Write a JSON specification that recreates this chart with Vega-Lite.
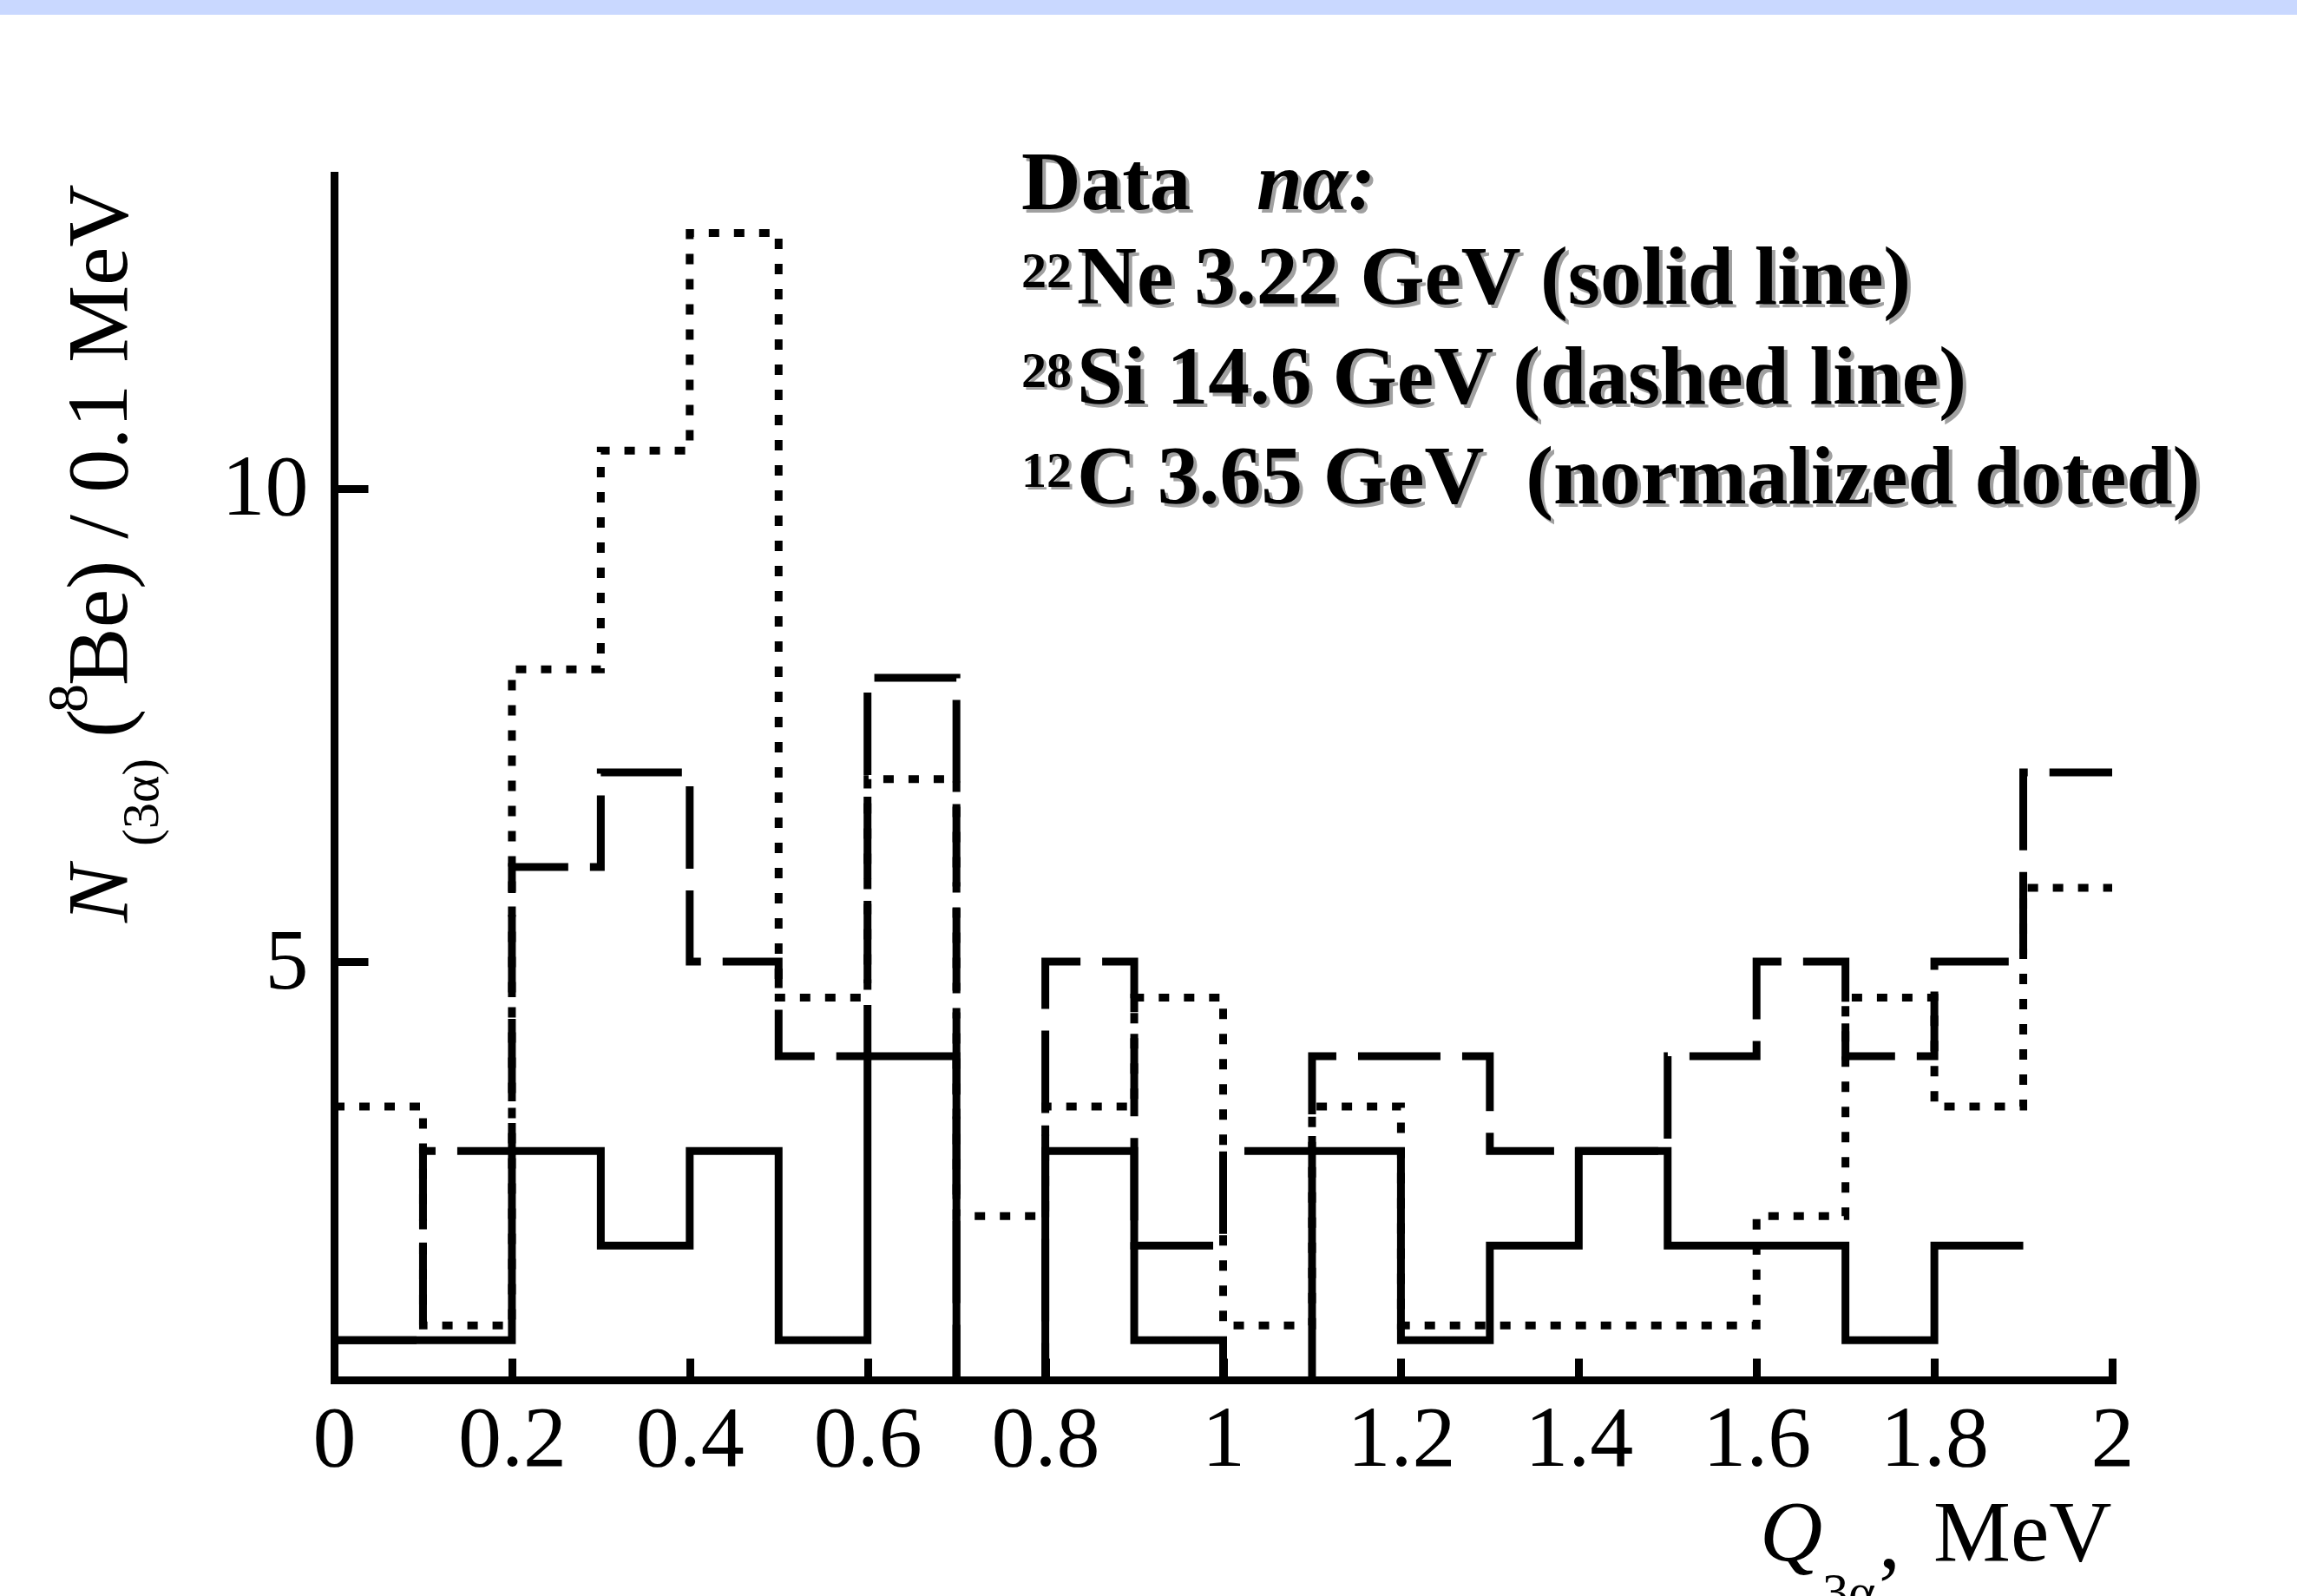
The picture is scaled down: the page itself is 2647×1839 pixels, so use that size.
{
  "$schema": "https://vega.github.io/schema/vega-lite/v6.json",
  "width": 2049,
  "height": 1388,
  "autosize": {"type": "none"},
  "padding": {"left": 385, "top": 202, "right": 213, "bottom": 249},
  "background": "white",
  "config": {"view": {"stroke": null}, "font": "Liberation Serif"},
  "layer": [
    {
      "data": {"values": [{}]},
      "mark": {"type": "rect", "color": "#c9d8ff", "clip": false},
      "encoding": {
        "x": {"datum": -0.4, "type": "quantitative"},
        "x2": {"datum": 2.25},
        "y": {"datum": 15.3, "type": "quantitative"},
        "y2": {"datum": 15.007}
      }
    },
    {
      "data": {
        "values": [
          {"series": "22Ne", "q": 0.0, "n": 1},
          {"series": "22Ne", "q": 0.1, "n": 1},
          {"series": "22Ne", "q": 0.2, "n": 3},
          {"series": "22Ne", "q": 0.3, "n": 2},
          {"series": "22Ne", "q": 0.4, "n": 3},
          {"series": "22Ne", "q": 0.5, "n": 1},
          {"series": "22Ne", "q": 0.6, "n": 4},
          {"series": "22Ne", "q": 0.7, "n": 0},
          {"series": "22Ne", "q": 0.8, "n": 3},
          {"series": "22Ne", "q": 0.9, "n": 1},
          {"series": "22Ne", "q": 1.0, "n": 0},
          {"series": "22Ne", "q": 1.1, "n": 3},
          {"series": "22Ne", "q": 1.2, "n": 1},
          {"series": "22Ne", "q": 1.3, "n": 2},
          {"series": "22Ne", "q": 1.4, "n": 3},
          {"series": "22Ne", "q": 1.5, "n": 2},
          {"series": "22Ne", "q": 1.6, "n": 2},
          {"series": "22Ne", "q": 1.7, "n": 1},
          {"series": "22Ne", "q": 1.8, "n": 2},
          {"series": "22Ne", "q": 1.9, "n": 2},
          {"series": "28Si", "q": 0.0, "n": 1},
          {"series": "28Si", "q": 0.1, "n": 3},
          {"series": "28Si", "q": 0.2, "n": 6},
          {"series": "28Si", "q": 0.3, "n": 7},
          {"series": "28Si", "q": 0.4, "n": 5},
          {"series": "28Si", "q": 0.5, "n": 4},
          {"series": "28Si", "q": 0.6, "n": 8},
          {"series": "28Si", "q": 0.7, "n": 0},
          {"series": "28Si", "q": 0.8, "n": 5},
          {"series": "28Si", "q": 0.9, "n": 2},
          {"series": "28Si", "q": 1.0, "n": 3},
          {"series": "28Si", "q": 1.1, "n": 4},
          {"series": "28Si", "q": 1.2, "n": 4},
          {"series": "28Si", "q": 1.3, "n": 3},
          {"series": "28Si", "q": 1.4, "n": 3},
          {"series": "28Si", "q": 1.5, "n": 4},
          {"series": "28Si", "q": 1.6, "n": 5},
          {"series": "28Si", "q": 1.7, "n": 4},
          {"series": "28Si", "q": 1.8, "n": 5},
          {"series": "28Si", "q": 1.9, "n": 7},
          {"series": "28Si", "q": 2.0, "n": 7},
          {"series": "12C", "q": 0.0, "n": 3.47},
          {"series": "12C", "q": 0.1, "n": 1.155},
          {"series": "12C", "q": 0.2, "n": 8.09},
          {"series": "12C", "q": 0.3, "n": 10.4},
          {"series": "12C", "q": 0.4, "n": 12.7},
          {"series": "12C", "q": 0.5, "n": 4.62},
          {"series": "12C", "q": 0.6, "n": 6.93},
          {"series": "12C", "q": 0.7, "n": 2.31},
          {"series": "12C", "q": 0.8, "n": 3.47},
          {"series": "12C", "q": 0.9, "n": 4.62},
          {"series": "12C", "q": 1.0, "n": 1.155},
          {"series": "12C", "q": 1.1, "n": 3.47},
          {"series": "12C", "q": 1.2, "n": 1.155},
          {"series": "12C", "q": 1.3, "n": 1.155},
          {"series": "12C", "q": 1.4, "n": 1.155},
          {"series": "12C", "q": 1.5, "n": 1.155},
          {"series": "12C", "q": 1.6, "n": 2.31},
          {"series": "12C", "q": 1.7, "n": 4.62},
          {"series": "12C", "q": 1.8, "n": 3.47},
          {"series": "12C", "q": 1.9, "n": 5.78},
          {"series": "12C", "q": 2.0, "n": 5.78}
        ]
      },
      "mark": {"type": "line", "interpolate": "step-after", "strokeWidth": 9, "color": "black", "clip": true, "strokeCap": "butt", "strokeJoin": "miter"},
      "encoding": {
        "x": {
          "field": "q", "type": "quantitative",
          "scale": {"domain": [0, 2], "nice": false, "zero": false},
          "axis": {
            "values": [0, 0.2, 0.4, 0.6, 0.8, 1, 1.2, 1.4, 1.6, 1.8, 2],
            "format": "~g", "title": null, "grid": false,
            "domainColor": "black", "domainWidth": 9, "domainCap": "square",
            "tickColor": "black", "tickWidth": 9, "tickSize": -25,
            "labelPadding": 44, "labelFont": "Liberation Serif", "labelFontSize": 100,
            "labelColor": "black", "labelOverlap": false, "labelFlush": false, "labelBound": false
          }
        },
        "y": {
          "field": "n", "type": "quantitative",
          "scale": {"domain": [0.58, 13.31], "nice": false, "zero": false},
          "axis": {
            "values": [5, 10], "format": "~g", "title": null, "grid": false,
            "domainColor": "black", "domainWidth": 9, "domainCap": "square",
            "tickColor": "black", "tickWidth": 9, "tickSize": -39,
            "labelPadding": 69, "labelFont": "Liberation Serif", "labelFontSize": 100,
            "labelColor": "black", "labelOverlap": false, "labelFlush": false, "labelBound": false
          }
        },
        "strokeDash": {
          "field": "series", "type": "nominal",
          "scale": {"domain": ["22Ne", "28Si", "12C"], "range": [[1, 0], [95, 25], [12, 17]]},
          "legend": null
        },
        "order": {"field": "q", "type": "quantitative"}
      }
    },
    {
      "data": {"values": [{}]},
      "mark": {"type": "text", "text": "Data", "font": "Liberation Serif", "fontWeight": "bold", "fontSize": 95, "align": "left", "baseline": "alphabetic", "color": "#a0a0a0", "dx": 4, "dy": 4},
      "encoding": {"x": {"datum": 0.7731, "type": "quantitative"}, "y": {"datum": 12.952, "type": "quantitative"}}
    },
    {
      "data": {"values": [{}]},
      "mark": {"type": "text", "text": "Data", "font": "Liberation Serif", "fontWeight": "bold", "fontSize": 95, "align": "left", "baseline": "alphabetic", "color": "black"},
      "encoding": {"x": {"datum": 0.7731, "type": "quantitative"}, "y": {"datum": 12.952, "type": "quantitative"}}
    },
    {
      "data": {"values": [{}]},
      "mark": {"type": "text", "text": "nα:", "font": "Liberation Serif", "fontWeight": "bold", "fontStyle": "italic", "fontSize": 95, "align": "left", "baseline": "alphabetic", "color": "#a0a0a0", "dx": 4, "dy": 4},
      "encoding": {"x": {"datum": 1.0376, "type": "quantitative"}, "y": {"datum": 12.952, "type": "quantitative"}}
    },
    {
      "data": {"values": [{}]},
      "mark": {"type": "text", "text": "nα:", "font": "Liberation Serif", "fontWeight": "bold", "fontStyle": "italic", "fontSize": 95, "align": "left", "baseline": "alphabetic", "color": "black"},
      "encoding": {"x": {"datum": 1.0376, "type": "quantitative"}, "y": {"datum": 12.952, "type": "quantitative"}}
    },
    {
      "data": {"values": [{}]},
      "mark": {"type": "text", "text": ["22", "28", "12"], "lineHeight": 115, "font": "Liberation Serif", "fontWeight": "bold", "fontSize": 58, "align": "left", "baseline": "alphabetic", "color": "#a0a0a0", "dx": 3, "dy": 3},
      "encoding": {"x": {"datum": 0.7731, "type": "quantitative"}, "y": {"datum": 12.127, "type": "quantitative"}}
    },
    {
      "data": {"values": [{}]},
      "mark": {"type": "text", "text": ["22", "28", "12"], "lineHeight": 115, "font": "Liberation Serif", "fontWeight": "bold", "fontSize": 58, "align": "left", "baseline": "alphabetic", "color": "black"},
      "encoding": {"x": {"datum": 0.7731, "type": "quantitative"}, "y": {"datum": 12.127, "type": "quantitative"}}
    },
    {
      "data": {"values": [{}]},
      "mark": {"type": "text", "text": ["Ne 3.22 GeV (solid line)", "Si 14.6 GeV (dashed line)", "C 3.65 GeV\u00a0 (normalized doted)"], "lineHeight": 115, "font": "Liberation Serif", "fontWeight": "bold", "fontSize": 95.5, "align": "left", "baseline": "alphabetic", "color": "#a0a0a0", "dx": 4, "dy": 4},
      "encoding": {"x": {"datum": 0.8355, "type": "quantitative"}, "y": {"datum": 11.953, "type": "quantitative"}}
    },
    {
      "data": {"values": [{}]},
      "mark": {"type": "text", "text": ["Ne 3.22 GeV (solid line)", "Si 14.6 GeV (dashed line)", "C 3.65 GeV\u00a0 (normalized doted)"], "lineHeight": 115, "font": "Liberation Serif", "fontWeight": "bold", "fontSize": 95.5, "align": "left", "baseline": "alphabetic", "color": "black"},
      "encoding": {"x": {"datum": 0.8355, "type": "quantitative"}, "y": {"datum": 11.953, "type": "quantitative"}}
    },
    {
      "data": {"values": [{}]},
      "mark": {"type": "text", "text": "N", "angle": 270, "font": "Liberation Serif", "fontStyle": "italic", "fontSize": 100, "align": "left", "baseline": "alphabetic", "color": "black"},
      "encoding": {"x": {"datum": -0.2333, "type": "quantitative"}, "y": {"datum": 5.413, "type": "quantitative"}}
    },
    {
      "data": {"values": [{}]},
      "mark": {"type": "text", "text": "(3α)", "angle": 270, "font": "Liberation Serif", "fontSize": 60, "align": "left", "baseline": "alphabetic", "color": "black"},
      "encoding": {"x": {"datum": -0.1981, "type": "quantitative"}, "y": {"datum": 6.22, "type": "quantitative"}}
    },
    {
      "data": {"values": [{}]},
      "mark": {"type": "text", "text": "(", "angle": 270, "font": "Liberation Serif", "fontSize": 100, "align": "left", "baseline": "alphabetic", "color": "black"},
      "encoding": {"x": {"datum": -0.2333, "type": "quantitative"}, "y": {"datum": 7.367, "type": "quantitative"}}
    },
    {
      "data": {"values": [{}]},
      "mark": {"type": "text", "text": "8", "angle": 270, "font": "Liberation Serif", "fontSize": 66, "align": "left", "baseline": "alphabetic", "color": "black"},
      "encoding": {"x": {"datum": -0.2782, "type": "quantitative"}, "y": {"datum": 7.633, "type": "quantitative"}}
    },
    {
      "data": {"values": [{}]},
      "mark": {"type": "text", "text": "Be) / 0.1 MeV", "angle": 270, "font": "Liberation Serif", "fontSize": 100, "align": "left", "baseline": "alphabetic", "color": "black"},
      "encoding": {"x": {"datum": -0.2333, "type": "quantitative"}, "y": {"datum": 7.917, "type": "quantitative"}}
    },
    {
      "data": {"values": [{}]},
      "mark": {"type": "text", "text": "Q", "font": "Liberation Serif", "fontStyle": "italic", "fontSize": 100, "align": "left", "baseline": "alphabetic", "color": "black"},
      "encoding": {"x": {"datum": 1.6037, "type": "quantitative"}, "y": {"datum": -1.328, "type": "quantitative"}}
    },
    {
      "data": {"values": [{}]},
      "mark": {"type": "text", "text": "3α", "font": "Liberation Serif", "fontSize": 60, "align": "left", "baseline": "alphabetic", "color": "black"},
      "encoding": {"x": {"datum": 1.674, "type": "quantitative"}, "y": {"datum": -1.84, "type": "quantitative"}}
    },
    {
      "data": {"values": [{}]},
      "mark": {"type": "text", "text": ",", "font": "Liberation Serif", "fontSize": 100, "align": "left", "baseline": "alphabetic", "color": "black"},
      "encoding": {"x": {"datum": 1.7374, "type": "quantitative"}, "y": {"datum": -1.4, "type": "quantitative"}}
    },
    {
      "data": {"values": [{}]},
      "mark": {"type": "text", "text": "MeV", "font": "Liberation Serif", "fontSize": 100, "align": "left", "baseline": "alphabetic", "color": "black"},
      "encoding": {"x": {"datum": 1.7989, "type": "quantitative"}, "y": {"datum": -1.328, "type": "quantitative"}}
    }
  ]
}
